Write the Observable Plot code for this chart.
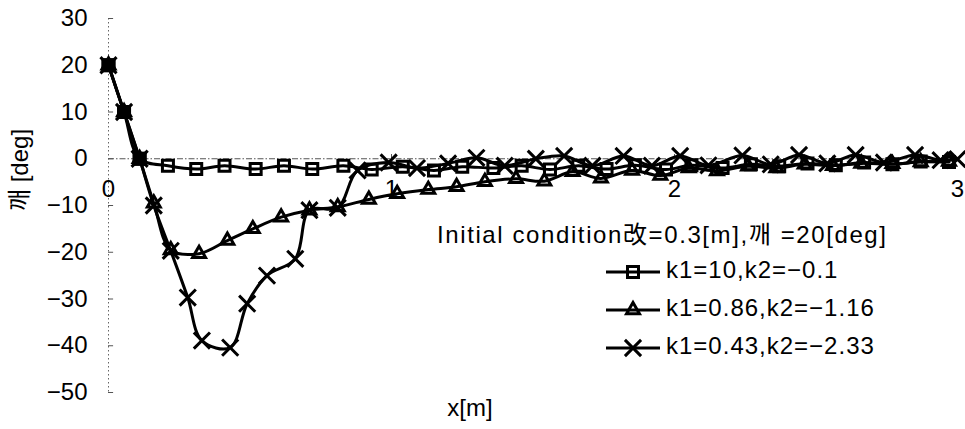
<!DOCTYPE html>
<html>
<head>
<meta charset="utf-8">
<script src="https://cdn.jsdelivr.net/npm/d3@7"></script>
<script src="https://cdn.jsdelivr.net/npm/@observablehq/plot@0.6"></script>
<style>
  html, body { margin: 0; padding: 0; background: #fff; }
  #wrap { position: relative; width: 965px; height: 429px; }
  #wrap svg { position: absolute; left: 0; top: 0; }
  #overlay { pointer-events: none; }
</style>
</head>
<body>
<div id="wrap"></div>
<script>
// ---- data ----
const seriesNames = ["k1=10,k2=\u22120.1", "k1=0.86,k2=\u22121.16", "k1=0.43,k2=\u22122.33"];
const seriesSymbols = ["square", "triangle", "times"];

const sqX = [0, 0.055, 0.11, 0.21, 0.31, 0.41, 0.52, 0.62, 0.72, 0.83, 0.93, 1.04, 1.15, 1.25, 1.36, 1.46, 1.56, 1.66, 1.76, 1.86, 1.97, 2.06, 2.17, 2.27, 2.37, 2.47, 2.57, 2.67, 2.77, 2.87, 2.97];
const sqY = [20, 10, 0, -1.5, -2.2, -1.5, -2.2, -1.5, -2.2, -1.5, -2.3, -1.7, -2.5, -1.7, -2.0, -1.5, -2.3, -1.5, -2.2, -1.4, -2.3, -1.4, -2.0, -1.2, -1.6, -1.0, -1.4, -0.8, -1.2, -0.6, -0.7];

const triX = [0, 0.055, 0.11, 0.16, 0.22, 0.32, 0.42, 0.51, 0.61, 0.71, 0.81, 0.92, 1.02, 1.13, 1.23, 1.33, 1.44, 1.54, 1.64, 1.74, 1.85, 1.95, 2.05, 2.15, 2.26, 2.36, 2.46, 2.56, 2.66, 2.77, 2.87, 2.97];
const triY = [20, 10, 0, -9.5, -19.5, -20.3, -17.5, -15, -12.5, -11, -10.3, -8.7, -7.5, -6.6, -6.0, -4.9, -4.3, -4.8, -2.8, -4.2, -2.5, -3.6, -2.0, -2.6, -1.6, -2.0, -1.2, -1.5, -1.0, -1.1, -0.7, -0.6];

const crX = [0, 0.055, 0.11, 0.16, 0.22, 0.28, 0.33, 0.43, 0.49, 0.56, 0.66, 0.71, 0.81, 0.88, 0.99, 1.09, 1.2, 1.3, 1.4, 1.51, 1.61, 1.71, 1.82, 1.92, 2.02, 2.12, 2.24, 2.34, 2.44, 2.54, 2.64, 2.74, 2.85, 2.94, 3.0];
const crY = [20, 10, 0, -10, -19.7, -29.7, -38.9, -40.4, -31, -25, -21.4, -11, -10.5, -2.5, -0.8, -2.0, -1.0, 0.2, -1.5, 0.0, 0.6, -1.5, 0.6, -1.5, 0.6, -1.4, 0.7, -1.2, 0.8, -1.0, 0.8, -0.8, 0.8, -0.3, -0.1];

// the three starting points shared by all runs (drawn solid)
const startX = [0, 0.055, 0.11];

const xTicks = [0, 1, 2, 3];
const yTicks = [-50, -40, -30, -20, -10, 0, 10, 20, 30];

const legendTitle = "Initial condition\u6539=0.3[m],\uAE68 =20[deg]";
const yLabel = "\uAE68 [deg]";
const xLabel = "x[m]";

// ---- table ----
const table = [];
[[sqX, sqY], [triX, triY], [crX, crY]].forEach(([xs, ys], i) => {
  xs.forEach((x, j) => table.push({series: seriesNames[i], x, y: ys[j]}));
});

const FONT = "'Liberation Sans','Noto Sans CJK KR',sans-serif";
const symR = {square: 6.2, triangle: 4.8, times: 7.4};
const SW = 3;

const marks = [
  Plot.ruleX([0], {stroke: "#666", strokeWidth: 1, strokeDasharray: "1.5,2.5"}),
  Plot.ruleY([0], {stroke: "#555", strokeWidth: 1, strokeDasharray: "6,2,1.5,2"}),
  Plot.ruleY(yTicks, {x1: 0, x2: 0.018, stroke: "#555", strokeWidth: 1}),
  Plot.ruleX(xTicks.slice(1, 3), {y1: 0, y2: 0.9, stroke: "#555", strokeWidth: 1}),
  Plot.axisY({ticks: yTicks, tickSize: 0, tickPadding: 21, fontSize: 24, label: null}),
  Plot.text(xTicks, {x: d => d, y: () => 0, dy: 31, text: d => String(d), fontSize: 24})
];
seriesNames.forEach((name, i) => {
  const rows = table.filter(d => d.series === name);
  marks.push(Plot.line(rows, {x: "x", y: "y", stroke: "black", strokeWidth: SW, curve: "catmull-rom"}));
  marks.push(Plot.dot(rows, {x: "x", y: "y", symbol: () => seriesSymbols[i], r: symR[seriesSymbols[i]], stroke: "black", strokeWidth: SW, fill: "none"}));
});
// solid squares where all runs coincide at the start
const startRows = table.filter(d => d.series === seriesNames[0] && startX.includes(d.x));
marks.push(Plot.dot(startRows, {x: "x", y: "y", symbol: "square", r: 7.2, fill: "black", stroke: "black", strokeWidth: 1}));

const chart = Plot.plot({
  width: 965,
  height: 429,
  marginLeft: 108,
  marginRight: 8,
  marginTop: 18,
  marginBottom: 37,
  style: {fontFamily: FONT, fontSize: "24px", background: "white", color: "black"},
  x: {domain: [0, 3], axis: null},
  y: {domain: [-50, 30], axis: null},
  symbol: {type: "identity"},
  marks
});
document.getElementById("wrap").appendChild(chart);

// ---- overlay: legend and axis titles ----
const ov = d3.select("#wrap").append("svg")
  .attr("id", "overlay").attr("width", 965).attr("height", 429)
  .style("font-family", FONT).style("font-size", "24px");

ov.append("text").attr("x", 437).attr("y", 237).attr("dominant-baseline", "middle")
  .attr("letter-spacing", "1.6px").text(legendTitle);

const rowsY = [272, 310, 348];
const d3Sym = {square: d3.symbolSquare, triangle: d3.symbolTriangle, times: d3.symbolTimes};
seriesNames.forEach((name, i) => {
  const g = ov.append("g").attr("transform", `translate(0,${rowsY[i]})`);
  g.append("line").attr("x1", 606).attr("x2", 660).attr("stroke", "black").attr("stroke-width", SW);
  const r = symR[seriesSymbols[i]];
  g.append("path").attr("transform", "translate(633,0)")
    .attr("d", d3.symbol(d3Sym[seriesSymbols[i]], Math.PI * r * r)())
    .attr("fill", "none").attr("stroke", "black").attr("stroke-width", SW);
  g.append("text").attr("x", 666).attr("dominant-baseline", "middle")
    .attr("letter-spacing", "1.0px").text(name);
});

ov.append("text").attr("x", 470).attr("y", 410).attr("text-anchor", "middle")
  .attr("dominant-baseline", "middle").text(xLabel);

ov.append("text").attr("transform", "translate(22,170) rotate(-90)")
  .attr("text-anchor", "middle").attr("dominant-baseline", "middle").text(yLabel);
</script>
</body>
</html>
